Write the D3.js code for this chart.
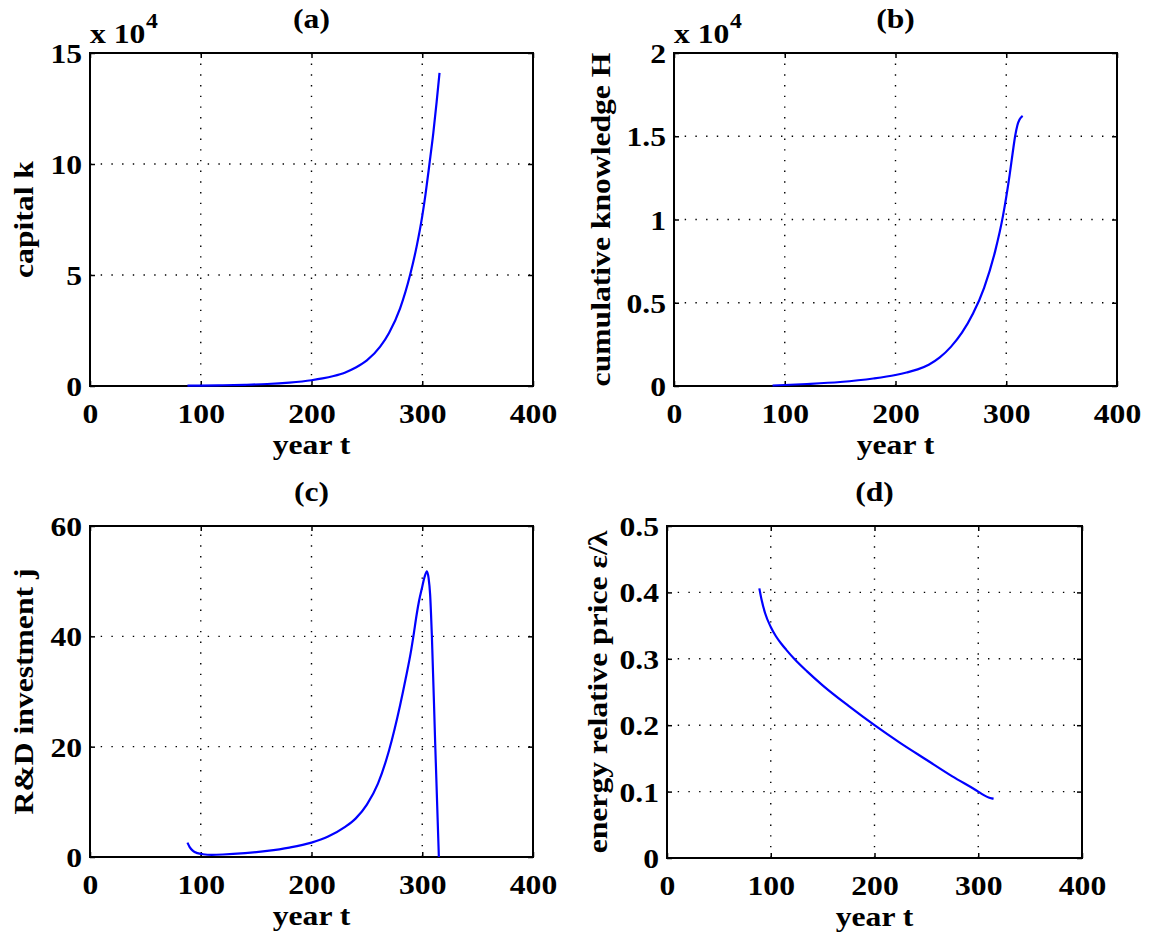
<!DOCTYPE html>
<html><head><meta charset="utf-8">
<script src="https://cdn.jsdelivr.net/npm/d3@7"></script>
<style>
html,body{margin:0;padding:0;background:#fff;}
text{font-family:"Liberation Serif","Times New Roman",serif;font-weight:bold;fill:#000;}
</style></head><body>
<svg id="chart" width="1151" height="937"></svg>
<script>
// ---------- data ----------
const xTicks = [0, 100, 200, 300, 400];
const xDomain = [0, 400];
const titles = ["(a)", "(b)", "(c)", "(d)"];
const xLabel = "year t";
const yLabels = ["capital k", "cumulative knowledge H", "R&D investment j", "energy relative price \u03B5/\u03BB"];
const yTicksA = [0, 5, 10, 15];
const yTicksB = [0, 0.5, 1, 1.5, 2];
const yTicksC = [0, 20, 40, 60];
const yTicksD = [0, 0.1, 0.2, 0.3, 0.4, 0.5];
const yTickTextB = ["0", "0.5", "1", "1.5", "2"];
const yTickTextD = ["0", "0.1", "0.2", "0.3", "0.4", "0.5"];
const exponentLabel = "x 10";
const exponentPower = "4";

// (a) capital k, in units of 10^4
const tA = [88, 100, 120, 140, 160, 180, 200, 210, 220, 230, 240, 250, 262, 270, 280, 289, 295, 300, 303, 306.5, 310, 313, 315.6];
const kA = [0.015, 0.02, 0.033, 0.055, 0.09, 0.155, 0.26, 0.34, 0.45, 0.6, 0.83, 1.15, 1.77, 2.39, 3.5, 5.0, 6.3, 7.65, 8.65, 10.0, 11.4, 12.8, 14.1];
// (b) cumulative knowledge H, in units of 10^4
const tB = [89, 100, 120, 150, 180, 200, 210, 220, 230, 240, 250, 260, 270, 280, 290, 297, 303, 306, 308, 310, 312, 314.8];
const hB = [0.003, 0.006, 0.012, 0.024, 0.045, 0.066, 0.081, 0.1, 0.128, 0.172, 0.235, 0.32, 0.435, 0.59, 0.81, 1.02, 1.265, 1.41, 1.5, 1.565, 1.6, 1.622];
// (c) R&D investment j
const tC = [88, 90, 93, 97, 102, 110, 120, 140, 160, 180, 200, 215, 230, 240, 250, 260, 270, 280, 285, 290, 292, 295, 297, 300, 302, 304.2, 305.7, 307.1, 308.7, 311.7, 315];
const jC = [2.6, 1.8, 1.1, 0.7, 0.5, 0.4, 0.45, 0.7, 1.1, 1.7, 2.6, 3.7, 5.4, 7.0, 9.5, 13.3, 19.3, 27.5, 32.3, 37.5, 40, 44, 46.3, 49, 50.7, 51.8, 50.6, 47.6, 40, 20.5, 0];
// (d) energy relative price
const tD = [89, 91, 94.5, 100, 105, 110, 115, 122.6, 135, 150, 175, 200, 225, 250, 275, 300, 305, 310, 313, 314.8];
const pD = [0.406, 0.39, 0.369, 0.348, 0.334, 0.323, 0.3135, 0.3, 0.281, 0.26, 0.229, 0.2, 0.173, 0.148, 0.123, 0.1, 0.095, 0.091, 0.0897, 0.0893];

// ---------- layout ----------
const FS = 28, SX = 1.13;
const panels = [
  {box:{l:90, r:533, t:53, b:386}, yDomain:[0,15], yTicks:yTicksA, yText:yTicksA.map(String), t:tA, v:kA, ylab:yLabels[0], ylabX:33, exp:true},
  {box:{l:674, r:1117, t:53, b:386}, yDomain:[0,2], yTicks:yTicksB, yText:yTickTextB, t:tB, v:hB, ylab:yLabels[1], ylabX:610, exp:true},
  {box:{l:90, r:533, t:526, b:857}, yDomain:[0,60], yTicks:yTicksC, yText:yTicksC.map(String), t:tC, v:jC, ylab:yLabels[2], ylabX:33, exp:false},
  {box:{l:667, r:1082, t:526, b:858}, yDomain:[0,0.5], yTicks:yTicksD, yText:yTickTextD, t:tD, v:pD, ylab:yLabels[3], ylabX:607, exp:false}
];

const svg = d3.select("#chart");

function stext(parent, str, x, y, anchor, rot, size) {
  const g = parent.append("g").attr("transform", `translate(${x},${y}) rotate(${rot||0}) scale(${SX},1)`);
  return g.append("text").attr("text-anchor", anchor).attr("font-size", size || FS).text(str);
}

panels.forEach((p, i) => {
  const B = p.box;
  const x = d3.scaleLinear().domain(xDomain).range([B.l, B.r]);
  const y = d3.scaleLinear().domain(p.yDomain).range([B.b, B.t]);
  const g = svg.append("g");

  // grid
  const grid = g.append("g").attr("stroke", "#000").attr("stroke-width", 1.4).attr("stroke-dasharray", "1.4,9.3");
  xTicks.slice(1, -1).forEach(v => grid.append("line").attr("x1", x(v)).attr("x2", x(v)).attr("y1", B.b).attr("y2", B.t));
  p.yTicks.slice(1, -1).forEach(v => grid.append("line").attr("x1", B.l).attr("x2", B.r).attr("y1", y(v)).attr("y2", y(v)));

  // axes (inward ticks)
  const tl = 5;
  const ax = [
    g.append("g").attr("transform", `translate(0,${B.b})`).call(d3.axisBottom(x).tickValues(xTicks).tickSize(-tl).tickFormat(d3.format("d"))),
    g.append("g").attr("transform", `translate(0,${B.t})`).call(d3.axisTop(x).tickValues(xTicks).tickSize(-tl).tickFormat("")),
    g.append("g").attr("transform", `translate(${B.l},0)`).call(d3.axisLeft(y).tickValues(p.yTicks).tickSize(-tl).tickFormat((d, k) => p.yText[k])),
    g.append("g").attr("transform", `translate(${B.r},0)`).call(d3.axisRight(y).tickValues(p.yTicks).tickSize(-tl).tickFormat(""))
  ];
  ax.forEach(a => {
    a.select(".domain").remove();
    a.selectAll(".tick line").attr("stroke", "#000").attr("stroke-width", 1.5);
    a.attr("font-family", null).attr("font-size", null);
  });
  ax[0].selectAll(".tick text").attr("y", 37).attr("dy", 0).attr("font-size", FS).attr("fill", "#000")
    .attr("transform", `scale(${SX},1)`);
  ax[2].selectAll(".tick text").attr("x", -8 / SX).attr("dy", "0.34em").attr("font-size", FS).attr("fill", "#000")
    .attr("transform", `scale(${SX},1)`);

  // frame
  g.append("rect").attr("x", B.l).attr("y", B.t).attr("width", B.r - B.l).attr("height", B.b - B.t)
    .attr("fill", "none").attr("stroke", "#000").attr("stroke-width", 2);

  // curve
  const line = d3.line().x((d, k) => x(p.t[k])).y(d => y(d)).curve(d3.curveMonotoneX);
  g.append("path").datum(p.v).attr("d", line).attr("fill", "none").attr("stroke", "#0000ff").attr("stroke-width", 2.2);

  // texts
  const cx = (B.l + B.r) / 2, cy = (B.t + B.b) / 2;
  stext(g, titles[i], cx, B.t - 25, "middle");
  stext(g, xLabel, cx, B.b + 68, "middle");
  stext(g, p.ylab, p.ylabX, cy, "middle", -90);
  if (p.exp) {
    stext(g, exponentLabel, B.l, B.t - 10, "start");
    stext(g, exponentPower, B.l + 56, B.t - 25, "start", 0, 21);
  }
});
</script>
</body></html>
